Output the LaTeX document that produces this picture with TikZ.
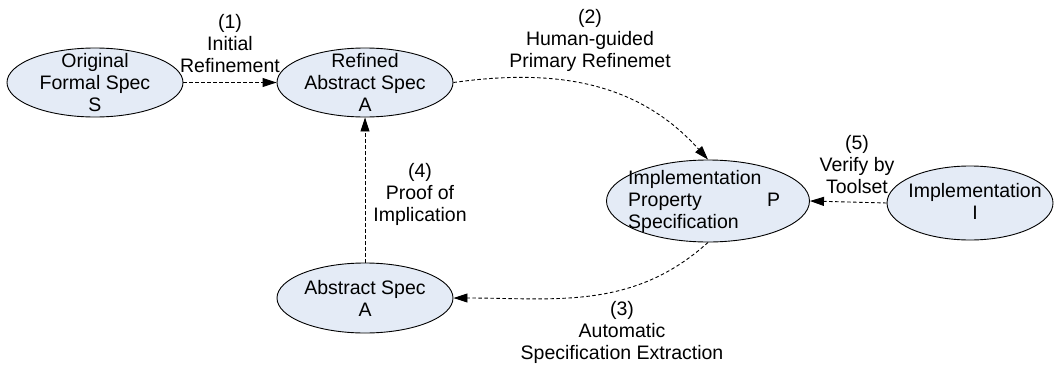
\documentclass[tikz,border=0pt]{standalone}
\usepackage{fontspec}
\setmainfont{Liberation Sans}
\usetikzlibrary{arrows.meta,shapes.geometric}
\definecolor{ellfill}{RGB}{228,235,246}
\begin{document}
\begin{tikzpicture}[x=1pt,y=1pt,
  ell/.style={ellipse, draw=black, line width=0.9pt, fill=ellfill, inner sep=0pt},
  lbl/.style={align=center, inner sep=0pt, font=\fontsize{19.5}{22}\selectfont},
  conn/.style={draw=black, line width=0.9pt, dash pattern=on 3.5pt off 2.5pt, -{Triangle[length=14pt,width=9pt]}}
]
\useasboundingbox (0,0) rectangle (1056,368);
% ellipses
\node[ell, minimum width=176pt, minimum height=69pt] (S) at (95,285.5) {};
\node[ell, minimum width=176pt, minimum height=69pt] (R) at (365,285.5) {};
\node[ell, minimum width=203pt, minimum height=82pt] (P) at (708,167) {};
\node[ell, minimum width=166pt, minimum height=74pt] (I) at (970,165) {};
\node[ell, minimum width=176pt, minimum height=70pt] (A) at (365,70) {};
% ellipse texts
\node[lbl] (St) at (S) {Original\\Formal Spec\\S};
\node[lbl] (Rt) at (R) {Refined\\Abstract Spec\\A};
\node[lbl, align=left, anchor=west] (Pt) at (628,167) {Implementation\\\makebox[152pt][l]{Property\hfill P}\\Specification};
\node[lbl] (It) at (975,167) {Implementation\\I};
\node[lbl] (At) at (A) {Abstract Spec\\A};
% connectors
\draw[conn] (S) -- (R);
\draw[conn] (R.east) to[out=8, in=132] (P.north);
\draw[conn] (P.south) to[out=222, in=0] (A.east);
\draw[conn] (A) -- (R);
\draw[conn] (I.west) -- (P.east);
% connector labels
\node[lbl] (L1) at (230,324) {(1)\\Initial\\Refinement};
\node[lbl] (L2) at (590,328) {(2)\\Human-guided\\Primary Refinemet};
\node[lbl] (L3) at (622,36) {(3)\\Automatic\\Specification Extraction};
\node[lbl] (L4) at (420,174) {(4)\\Proof of\\Implication};
\node[lbl] (L5) at (857,203) {(5)\\Verify by\\Toolset};
\end{tikzpicture}
\end{document}
